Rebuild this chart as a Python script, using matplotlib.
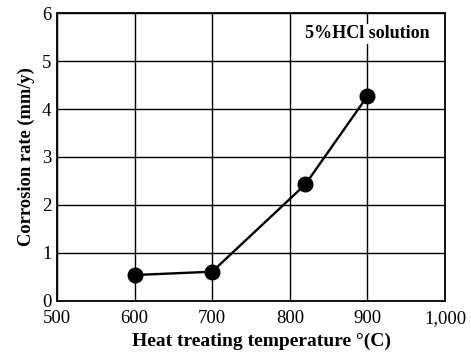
import matplotlib.pyplot as plt

temps = [600, 700, 820, 900]
rates = [0.54, 0.61, 2.43, 4.27]
xticks = [500, 600, 700, 800, 900, 1000]
xtick_labels = ['500', '600', '700', '800', '900', '1,000']
yticks = [0, 1, 2, 3, 4, 5, 6]

plt.rcParams['font.family'] = ['Liberation Serif', 'DejaVu Serif']

fig = plt.figure(figsize=(4.71, 3.52), dpi=100)
ax = fig.add_axes([0.121, 0.145, 0.824, 0.818])

ax.plot(temps, rates, '-o', color='black', lw=1.7, ms=10.5, zorder=3)

ax.set_xlim(500, 1000)
ax.set_ylim(0, 6)
ax.set_xticks(xticks)
ax.set_xticklabels(xtick_labels)
ax.set_yticks(yticks)
ax.tick_params(length=0, labelsize=13.5)
ax.tick_params(axis='x', pad=6.5)
ax.tick_params(axis='y', pad=4)
ax.grid(True, color='black', lw=1.0)
for s in ax.spines.values():
    s.set_linewidth(1.3)
    s.set_color('black')

ax.set_xlabel('Heat treating temperature °(C)', fontsize=14, fontweight='bold', labelpad=4)
ax.xaxis.label.set_x(0.528)
ax.set_ylabel('Corrosion rate (mm/y)', fontsize=13.3, fontweight='bold', labelpad=5)

ax.text(900, 5.57, '5%HCl solution', ha='center', va='center', fontsize=13,
        fontweight='bold', zorder=4,
        bbox=dict(facecolor='white', edgecolor='none', pad=1))

fig.savefig('out.png', dpi=100)
